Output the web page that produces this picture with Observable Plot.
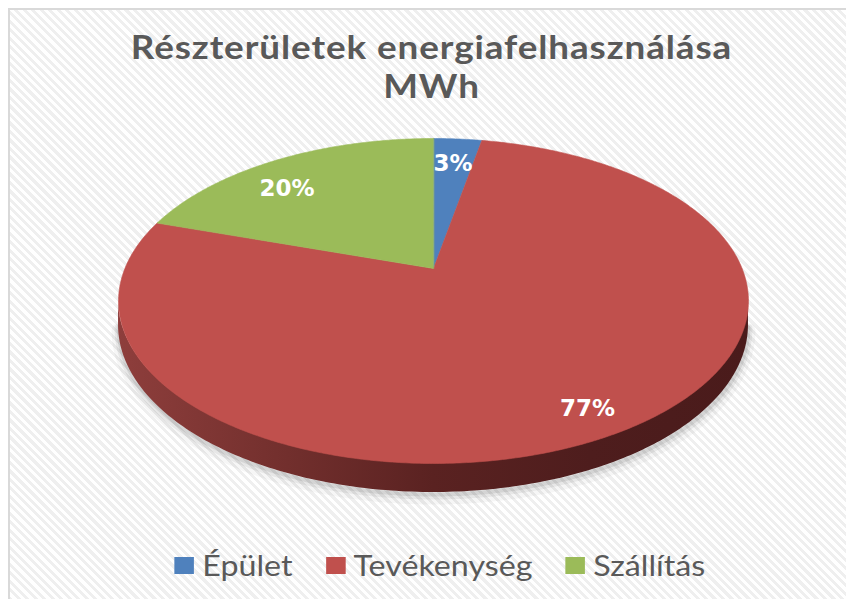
<!DOCTYPE html>
<html><head><meta charset="utf-8">
<script src="https://cdn.jsdelivr.net/npm/d3@7"></script>
<script src="https://cdn.jsdelivr.net/npm/@observablehq/plot@0.6"></script>
<style>
body{margin:0;background:#fff;}
#wrap{position:relative;width:846px;height:599px;overflow:hidden;background:#fff;}
#frame{position:absolute;left:8px;top:8px;width:860px;height:620px;border-top:2px solid #d9d9d9;border-left:2px solid #d9d9d9;
  background:repeating-linear-gradient(45deg,#ffffff 0px,#ffffff 3px,#efefef 3px,#efefef 6px);}
.tl{position:absolute;left:10px;width:846px;text-align:center;font-family:Lato,sans-serif;font-weight:700;font-size:32px;line-height:34px;height:34px;letter-spacing:0.8px;color:#595959;transform:scaleX(1.15);transform-origin:433px 0;}
#t1{top:30px;}
#t2{top:69px;}
#chart{position:absolute;left:0;top:0;}
#legend{position:absolute;left:17px;width:846px;top:548px;display:flex;justify-content:center;transform:scaleX(1.15);transform-origin:423px 0;}
#legend .lg-swatch{margin-right:29px !important;}
#legend .lg-swatch:last-child{margin-right:0 !important;}
#legend .lg-swatch svg{margin-right:7px;}
</style>
</head><body>
<div id="wrap">
  <div id="frame"></div>
  <div class="tl" id="t1">Részterületek energiafelhasználása</div>
  <div class="tl" id="t2">MWh</div>
  <div id="chart"></div>
  <div id="legend"></div>
</div>
<script>
const categories = ["Épület", "Tevékenység", "Szállítás"];
const values = [3, 77, 20];
const colors = ["#4F81BD", "#C0504D", "#9BBB59"];

// 3D-perspective pie geometry (unit radius)
const P = 0.2, K = 0.5055, RPX = 308.6, CX = 433, CY = 268, DEPTH = 23.2;
function proj(phi, r) {
  const X = r * Math.sin(phi), Z = r * Math.cos(phi), w = 1 + P * Z;
  return {u: X / w, v: -K * Z / w, w};
}
const total = d3.sum(values);
let acc = 0;
const slices = categories.map((c, i) => {
  const a0 = acc / total * 2 * Math.PI;
  acc += values[i];
  const a1 = acc / total * 2 * Math.PI;
  return {cat: c, value: values[i], color: colors[i], a0, a1};
});

const topRows = [];
for (const s of slices) {
  topRows.push({cat: s.cat, color: s.color, ...proj(0, 0)});
  const n = Math.max(4, Math.ceil((s.a1 - s.a0) / (Math.PI / 360)));
  for (let k = 0; k <= n; k++) topRows.push({cat: s.cat, color: s.color, ...proj(s.a0 + (s.a1 - s.a0) * k / n, 1)});
}

// visible side (front)
const aStart = Math.acos(-P), aEnd = 2 * Math.PI - Math.acos(-P);
const sideRows = [];
for (let k = 0; k <= 200; k++) {
  const p = proj(aStart + (aEnd - aStart) * k / 200, 1);
  sideRows.push({u: p.u, v1: p.v - 0.002, v2: p.v + DEPTH / RPX / p.w});
}
const rimRows = sideRows.map(d => ({u: d.u, v: d.v2}));
const uMin = d3.min(sideRows, d => d.u), uMax = d3.max(sideRows, d => d.u);

// gradient definition for the side, positioned with the plot's x scale
function sideGradient(...args) {
  const scales = args.find(a => a && typeof a.x === "function") || {};
  const sx = scales.x || (u => CX + RPX * u);
  const ns = "http://www.w3.org/2000/svg";
  const g = document.createElementNS(ns, "g");
  const defs = document.createElementNS(ns, "defs");
  const lg = document.createElementNS(ns, "linearGradient");
  lg.setAttribute("id", "sideGrad");
  lg.setAttribute("gradientUnits", "userSpaceOnUse");
  lg.setAttribute("x1", sx(uMin)); lg.setAttribute("x2", sx(uMax));
  lg.setAttribute("y1", 0); lg.setAttribute("y2", 0);
  for (const [o, c] of [[0, "#8e3e3c"], [0.25, "#74302e"], [0.5, "#5a2221"], [0.75, "#4e1d1d"], [1, "#4a1b1b"]]) {
    const st = document.createElementNS(ns, "stop");
    st.setAttribute("offset", o); st.setAttribute("stop-color", c);
    lg.append(st);
  }
  defs.append(lg); g.append(defs);
  return g;
}

// label placement (angle offset in radians, radius fraction) per slice
const labelPlacement = {"Épület": [0, 0.78], "Tevékenység": [0.026, 0.87], "Szállítás": [-0.117, 0.78]};
const labelRows = slices.map(s => {
  const [da, r] = labelPlacement[s.cat];
  return {...proj((s.a0 + s.a1) / 2 + da, r), text: Math.round(s.value / total * 100) + "%"};
});

const chart = Plot.plot({
  width: 846, height: 599, margin: 0,
  style: {background: "transparent"},
  x: {domain: [-CX / RPX, (846 - CX) / RPX], range: [0, 846], axis: null},
  y: {domain: [-CY / RPX, (599 - CY) / RPX], range: [0, 599], axis: null},
  color: {type: "identity"},
  marks: [
    sideGradient,
    Plot.line(rimRows, {x: "u", y: "v", dy: 5, stroke: "#000", strokeOpacity: 0.035, strokeWidth: 14}),
    Plot.line(rimRows, {x: "u", y: "v", dy: 3, stroke: "#000", strokeOpacity: 0.06, strokeWidth: 8}),
    Plot.line(rimRows, {x: "u", y: "v", dy: 2, stroke: "#000", strokeOpacity: 0.08, strokeWidth: 4}),
    Plot.areaY(sideRows, {x: "u", y1: "v1", y2: "v2", fill: "url(#sideGrad)"}),
    Plot.line(topRows, {x: "u", y: "v", z: "cat", fill: "color", stroke: "color", strokeWidth: 0.6, curve: "linear-closed"}),
    Plot.text(labelRows, {x: "u", y: "v", text: "text", fill: "white", fontSize: 23, fontWeight: "bold", fontFamily: "DejaVu Sans"})
  ]
});
document.getElementById("chart").append(chart);

const legend = Plot.legend({
  color: {type: "categorical", domain: categories, range: colors},
  swatchSize: 17, className: "lg",
  style: {fontFamily: "Lato, sans-serif", fontSize: "28px", color: "#595959", background: "transparent"}
});
document.getElementById("legend").append(legend);
</script>
</body></html>
